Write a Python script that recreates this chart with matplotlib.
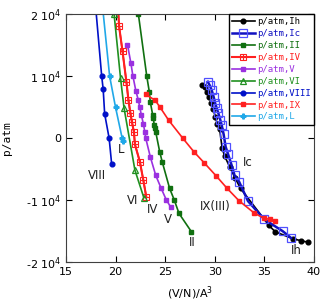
import matplotlib

matplotlib.use("Agg")
import matplotlib.pyplot as plt  # noqa: E402
from matplotlib.legend_handler import HandlerTuple  # noqa: E402

# volume per molecule (A^3) vs pressure (atm) for each ice phase
ih_v = [28.75, 29.0, 29.25, 29.45, 29.65, 29.85, 30.05, 30.25, 30.5, 30.75, 31.0,
        31.5, 32.05, 32.6, 35.45, 36.1, 37.85, 38.7, 39.45]
ih_p = [8550, 8200, 7500, 6700, 5750, 4700, 3450, 2350, 1400, -1650, -2900,
        -4600, -6400, -8100, -14050, -15100, -16200, -16550, -16800]

ic_v = [29.3, 29.5, 29.7, 29.9, 30.05, 30.2, 30.35, 30.55, 30.7, 30.9, 31.1,
        31.35, 31.7, 32.0, 32.45, 33.35, 35.0, 36.85, 37.7]
ic_p = [9100, 8500, 7700, 6600, 5600, 4800, 4100, 3000, 2100, 600, -1400,
        -2600, -4350, -6000, -7000, -10150, -13100, -15000, -16100]

ii_v = [22.3, 23.15, 23.4, 23.5, 23.75, 23.8, 23.9, 24.0, 24.05, 24.45, 24.7,
        25.45, 25.9, 26.4, 27.65]
ii_p = [20000, 9950, 7500, 5850, 3700, 3300, 2100, 1600, 1000, -2200, -3800,
        -8100, -9900, -12150, -15100]

iv_v = [20.25, 20.35, 20.7, 21.1, 21.3, 21.5, 21.65, 21.85, 21.95, 22.45, 22.8, 23.1]
iv_p = [21000, 18100, 14000, 9000, 6100, 4000, 2600, 1000, -1000, -3800, -6800, -9500]

v_v = [21.2, 21.55, 21.75, 22.05, 22.3, 22.45, 22.6, 22.8, 22.95, 23.05, 23.5,
       24.05, 24.6, 25.1, 25.55]
v_p = [15100, 12050, 10000, 7600, 6100, 4950, 3700, 2350, 1000, -50, -3000,
       -6000, -8100, -9900, -11100]

vi_v = [19.85, 20.5, 20.85, 21.95, 22.85]
vi_p = [20000, 9700, 4900, -5150, -9600]

viii_v = [18.0, 18.6, 18.75, 18.9, 19.35, 19.6]
viii_p = [21000, 10000, 7900, 3900, 0, -4100]

ix_v = [23.05, 24.0, 24.5, 25.35, 26.8, 27.9, 28.95, 30.15, 31.25, 32.45, 34.0,
        35.0, 35.6, 36.1]
ix_p = [7050, 6100, 4950, 2900, -50, -2200, -4000, -6100, -8100, -10100, -12100,
        -12950, -13100, -13400]

l_v = [18.7, 19.4, 20.0, 20.65, 20.75]
l_p = [21000, 10000, 4950, 100, -400]

phase_labels = ["VIII", "L", "VI", "IV", "V", "II", "IX(III)", "Ic", "Ih"]
label_v = [18.1, 20.55, 21.75, 23.7, 25.3, 27.7, 30.1, 33.3, 38.2]
label_p = [-6000, -1900, -10000, -11500, -13200, -16900, -11100, -3900, -18100]

x_ticks = [15, 20, 25, 30, 35, 40]
y_ticks = [-20000, -10000, 0, 10000, 20000]
y_tick_labels = ["-2 10$^4$", "-1 10$^4$", "0", "1 10$^4$", "2 10$^4$"]

c_black = "#000000"
c_blue = "#1010c0"
c_blue_sq = "#5050ff"
c_green = "#107010"
c_red = "#ff2020"
c_purple = "#9a30e0"
c_vigreen = "#209020"
c_viii = "#0010c8"
c_cyan = "#20a8e8"

fig = plt.figure(figsize=(3.35, 3.02), dpi=100)
ax = fig.add_axes([0.197, 0.132, 0.740, 0.821])

ms = 3.4
h_ih, = ax.plot(ih_v, ih_p, "-o", color=c_black, ms=ms, lw=1.2)
h_ic, = ax.plot(ic_v, ic_p, "-", color=c_blue, lw=1.8, marker="s", ms=5.5,
                mfc="none", mec=c_blue_sq, mew=0.9)
h_ii, = ax.plot(ii_v, ii_p, "-s", color=c_green, ms=ms, lw=1.2)
h_iv, = ax.plot(iv_v, iv_p, "-s", color=c_red, ms=4.5, mfc="none", lw=1.2, mew=0.8)
h_iv2, = ax.plot(iv_v, iv_p, "none", marker="+", color=c_red, ms=4.5, mew=0.8)
h_v, = ax.plot(v_v, v_p, "-s", color=c_purple, ms=ms, lw=1.2)
h_vi, = ax.plot(vi_v, vi_p, "-^", color=c_vigreen, ms=5, mfc="none", lw=1.2, mew=0.9)
h_viii, = ax.plot(viii_v, viii_p, "-o", color=c_viii, ms=ms, lw=1.2)
h_ix, = ax.plot(ix_v, ix_p, "-s", color=c_red, ms=ms, lw=1.2)
h_l, = ax.plot(l_v, l_p, "-", color=c_cyan, marker="P", ms=3.5, lw=1.2)

for text, xv, yv in zip(phase_labels, label_v, label_p):
    ax.text(xv, yv, text, ha="center", va="center", fontsize=8.5, color="#202020")

ax.set_xlim(15, 40)
ax.set_ylim(-20000, 20000)
ax.set_xticks(x_ticks)
ax.set_yticks(y_ticks)
ax.set_yticklabels(y_tick_labels)
ax.tick_params(direction="in", top=True, right=True, labelsize=8, length=4)
for sp in ax.spines.values():
    sp.set_color("#404040")

ax.set_xlabel("(V/N)/A$^3$", fontsize=8, labelpad=5)
ax.set_ylabel("p/atm", fontsize=8, labelpad=10, family="DejaVu Sans Mono")

handles = [h_ih, h_ic, h_ii, (h_iv, h_iv2), h_v, h_vi, h_viii, h_ix, h_l]
names = ["p/atm,Ih", "p/atm,Ic", "p/atm,II", "p/atm,IV", "p/atm,V",
         "p/atm,VI", "p/atm,VIII", "p/atm,IX", "p/atm,L"]
text_colors = [c_black, c_blue, c_green, c_red, c_purple, c_vigreen, c_viii,
               c_red, c_cyan]
leg = ax.legend(handles, names, loc="upper right", bbox_to_anchor=(1.0, 1.0),
                borderaxespad=0, fancybox=False, edgecolor="black",
                prop={"family": "DejaVu Sans Mono", "size": 6.5},
                handlelength=2.6, handletextpad=0.2, labelspacing=0.32,
                borderpad=0.35, framealpha=1, numpoints=1,
                handler_map={tuple: HandlerTuple(ndivide=1, pad=0)})
leg.get_frame().set_linewidth(1.0)
for t, c in zip(leg.get_texts(), text_colors):
    t.set_color(c)

fig.savefig("out.png", dpi=100)
